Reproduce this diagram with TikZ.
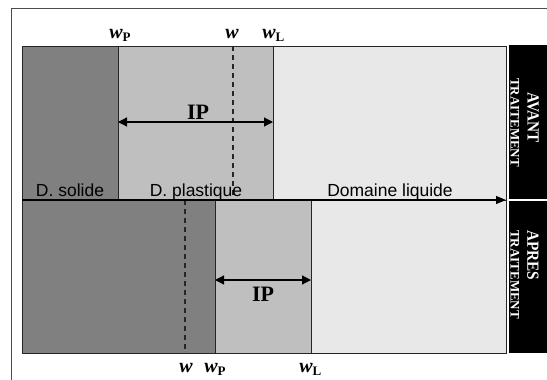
\documentclass[tikz,border=0pt]{standalone}
\usepackage{fontspec}
\setmainfont{Liberation Sans}
\newfontfamily\tnr{Liberation Serif}
\usetikzlibrary{arrows.meta}
\definecolor{solide}{gray}{0.5}
\definecolor{plast}{gray}{0.75}
\definecolor{liq}{gray}{0.91}
\newcommand{\wlab}[1]{{\itshape w}\rlap{\raisebox{-3pt}{\fontsize{13}{13}\selectfont #1}}}

\begin{document}
\begin{tikzpicture}[x=1pt,y=-1pt]
\tikzstyle{every node}+=[inner sep=0pt]
\tikzstyle{zone}=[draw=black!85, line width=1pt]
\tikzstyle{lim}=[black!85, line width=1.3pt, dash pattern=on 5pt off 4pt]
\tikzstyle{wtxt}=[anchor=base, font=\tnr\bfseries\fontsize{20}{20}\selectfont]
\tikzstyle{dom}=[anchor=base, font=\fontsize{17.5}{18}\selectfont]
\tikzstyle{ip}=[font=\tnr\bfseries\fontsize{22}{22}\selectfont]
\tikzstyle{fleche}=[line width=1.2pt, {Triangle[length=9pt,width=9pt]}-{Triangle[length=9pt,width=9pt]}]
\tikzstyle{etat}=[rotate=-90, anchor=west, text=white, font=\tnr\bfseries]
\useasboundingbox (0,0) rectangle (547,380);
% cadre
\draw [black!70, line width=0.8pt] (11.5,380) -- (11.5,8.5) -- (547,8.5);
% avant traitement
\draw [zone, fill=solide] (22,46) rectangle (118,200);
\draw [zone, fill=plast] (118,46) rectangle (273,200);
\draw [zone, fill=liq] (273,46) rectangle (506,200);
\draw [lim] (233,46) -- (233,200);
% apres traitement
\draw [zone, fill=solide] (22,200) rectangle (215,353);
\draw [zone, fill=plast] (215,200) rectangle (311,353);
\draw [zone, fill=liq] (311,200) rectangle (506,353);
\draw [lim] (185,200) -- (185,353);
% axe
\coordinate (a0) at (22,200);
\coordinate (a1) at (506,200);
\draw [line width=1.2pt, -{Triangle[length=10pt,width=8pt]}] (a0) -- (a1);
\node [dom] (sol) at (70,196) {D. solide};
\node [dom] (pla) at (196,196) {D. plastique};
\node [dom] (liqu) at (390,196) {Domaine liquide};
% teneurs en eau
\node [wtxt] (wp1) at (116,38) {\wlab{P}};
\node [wtxt] (w1) at (232,38) {\itshape w};
\node [wtxt] (wl1) at (269,38) {\wlab{L}};
\node [wtxt] (w2) at (186,372) {\itshape w};
\node [wtxt] (wp2) at (211,372) {\wlab{P}};
\node [wtxt] (wl2) at (306,372) {\wlab{L}};
% indice de plasticite
\coordinate (ip1a) at (118,122);
\coordinate (ip1b) at (273,122);
\draw [fleche] (ip1a) -- (ip1b);
\node [ip] (ip1) at (198,112) {IP};
\coordinate (ip2a) at (215,280);
\coordinate (ip2b) at (311,280);
\draw [fleche] (ip2a) -- (ip2b);
\node [ip] (ip2) at (263,294) {IP};
% bandeaux
\fill (509,45) rectangle (547,198.5);
\fill (509,201) rectangle (547,353);
\node [etat] (av) at (533,92) {\fontsize{17}{17}\selectfont\scalebox{0.9}[1]{AVANT}};
\node [etat] (tr1) at (515,78) {\fontsize{13}{13}\selectfont TRAITEMENT};
\node [etat] (ap) at (533,230) {\fontsize{17}{17}\selectfont\scalebox{0.9}[1]{APRES}};
\node [etat] (tr2) at (515,230) {\fontsize{13}{13}\selectfont TRAITEMENT};
\end{tikzpicture}
\end{document}
